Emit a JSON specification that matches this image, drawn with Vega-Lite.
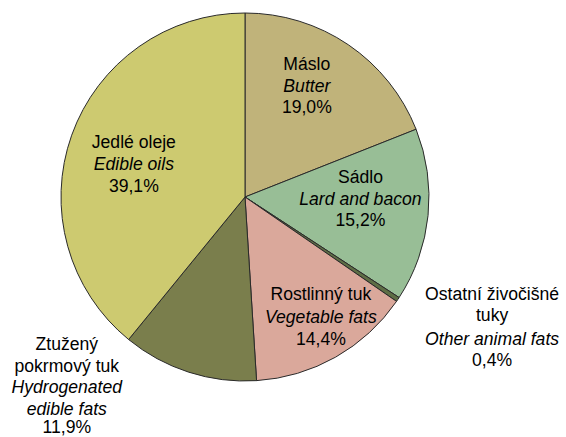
{
  "$schema": "https://vega.github.io/schema/vega-lite/v6.json",
  "width": 490,
  "height": 394,
  "autosize": "none",
  "padding": {"left": 0, "top": 0, "right": 76, "bottom": 43},
  "background": "white",
  "view": {"stroke": null},
  "config": {"text": {"font": "Liberation Sans", "fontSize": 17.6, "lineHeight": 21.5, "lineBreak": "\n", "color": "black", "align": "center", "baseline": "middle"}},
  "data": {"values": [
    {"idx": 1, "name": "Máslo", "value": 19.0, "top": "Máslo", "ita": "Butter", "pct": "19,0%"},
    {"idx": 2, "name": "Sádlo", "value": 15.2, "top": "Sádlo", "ita": "Lard and bacon", "pct": "15,2%"},
    {"idx": 3, "name": "Ostatní živočišné tuky", "value": 0.4, "top": "Ostatní živočišné\ntuky", "ita": "Other animal fats", "pct": "0,4%"},
    {"idx": 4, "name": "Rostlinný tuk", "value": 14.4, "top": "Rostlinný tuk", "ita": "Vegetable fats", "pct": "14,4%"},
    {"idx": 5, "name": "Ztužený pokrmový tuk", "value": 11.9, "top": "Ztužený\npokrmový tuk", "ita": "Hydrogenated\nedible fats", "pct": "11,9%"},
    {"idx": 6, "name": "Jedlé oleje", "value": 39.1, "top": "Jedlé oleje", "ita": "Edible oils", "pct": "39,1%"}
  ]},
  "encoding": {
    "theta": {"field": "value", "type": "quantitative", "stack": true},
    "order": {"field": "idx", "type": "quantitative"}
  },
  "layer": [
    {
      "mark": {"type": "arc", "radius": 184, "stroke": "#2a2a2a", "strokeWidth": 1},
      "encoding": {
        "color": {"field": "name", "type": "nominal", "legend": null,
          "scale": {"domain": ["Máslo", "Sádlo", "Ostatní živočišné tuky", "Rostlinný tuk", "Ztužený pokrmový tuk", "Jedlé oleje"],
                    "range": ["#C0B37A", "#98BE96", "#5E6E45", "#DAA89B", "#7A7E4C", "#CDCA70"]}}
      }
    },
    {"mark": {"type": "text", "radius": 110, "dx": 0, "dy": -41},
     "encoding": {"text": {"condition": {"test": "datum.idx === 1", "field": "top"}, "value": ""}}},
    {"mark": {"type": "text", "radius": 110, "dx": 0, "dy": -19, "fontStyle": "italic"},
     "encoding": {"text": {"condition": {"test": "datum.idx === 1", "field": "ita"}, "value": ""}}},
    {"mark": {"type": "text", "radius": 110, "dx": 0, "dy": 2},
     "encoding": {"text": {"condition": {"test": "datum.idx === 1", "field": "pct"}, "value": ""}}},

    {"mark": {"type": "text", "radius": 115, "dx": 1, "dy": -30.5},
     "encoding": {"text": {"condition": {"test": "datum.idx === 2", "field": "top"}, "value": ""}}},
    {"mark": {"type": "text", "radius": 115, "dx": 1, "dy": -8.5, "fontStyle": "italic"},
     "encoding": {"text": {"condition": {"test": "datum.idx === 2", "field": "ita"}, "value": ""}}},
    {"mark": {"type": "text", "radius": 115, "dx": 1, "dy": 12},
     "encoding": {"text": {"condition": {"test": "datum.idx === 2", "field": "pct"}, "value": ""}}},

    {"mark": {"type": "text", "radius": 297.5, "dx": 0, "dy": -67.7},
     "encoding": {"text": {"condition": {"test": "datum.idx === 3", "field": "top"}, "value": ""}}},
    {"mark": {"type": "text", "radius": 297.5, "dx": 0, "dy": -23, "fontStyle": "italic"},
     "encoding": {"text": {"condition": {"test": "datum.idx === 3", "field": "ita"}, "value": ""}}},
    {"mark": {"type": "text", "radius": 297.5, "dx": 0, "dy": -2},
     "encoding": {"text": {"condition": {"test": "datum.idx === 3", "field": "pct"}, "value": ""}}},

    {"mark": {"type": "text", "radius": 154, "dx": 0, "dy": -36},
     "encoding": {"text": {"condition": {"test": "datum.idx === 4", "field": "top"}, "value": ""}}},
    {"mark": {"type": "text", "radius": 154, "dx": 0, "dy": -13.5, "fontStyle": "italic"},
     "encoding": {"text": {"condition": {"test": "datum.idx === 4", "field": "ita"}, "value": ""}}},
    {"mark": {"type": "text", "radius": 154, "dx": 0, "dy": 9},
     "encoding": {"text": {"condition": {"test": "datum.idx === 4", "field": "pct"}, "value": ""}}},

    {"mark": {"type": "text", "radius": 200, "dx": -117, "dy": -42.4},
     "encoding": {"text": {"condition": {"test": "datum.idx === 5", "field": "top"}, "value": ""}}},
    {"mark": {"type": "text", "radius": 200, "dx": -117, "dy": 0.6, "fontStyle": "italic"},
     "encoding": {"text": {"condition": {"test": "datum.idx === 5", "field": "ita"}, "value": ""}}},
    {"mark": {"type": "text", "radius": 200, "dx": -117, "dy": 41},
     "encoding": {"text": {"condition": {"test": "datum.idx === 5", "field": "pct"}, "value": ""}}},

    {"mark": {"type": "text", "radius": 118, "dx": 0, "dy": -14.4},
     "encoding": {"text": {"condition": {"test": "datum.idx === 6", "field": "top"}, "value": ""}}},
    {"mark": {"type": "text", "radius": 118, "dx": 0, "dy": 7.6, "fontStyle": "italic"},
     "encoding": {"text": {"condition": {"test": "datum.idx === 6", "field": "ita"}, "value": ""}}},
    {"mark": {"type": "text", "radius": 118, "dx": 0, "dy": 29.6},
     "encoding": {"text": {"condition": {"test": "datum.idx === 6", "field": "pct"}, "value": ""}}}
  ]
}
